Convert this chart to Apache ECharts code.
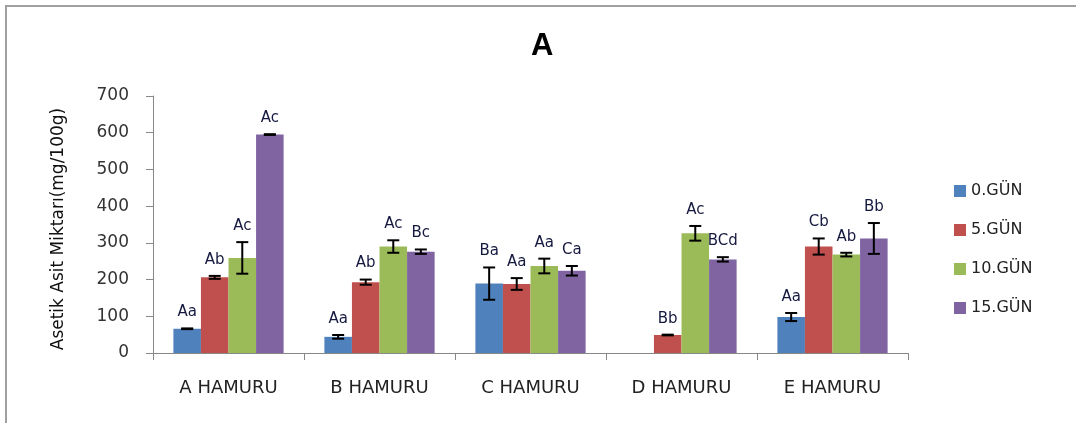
<!DOCTYPE html>
<html>
<head>
<meta charset="utf-8">
<script src="https://cdn.jsdelivr.net/npm/echarts@6/dist/echarts.min.js"></script>
<style>
  html, body { margin: 0; padding: 0; background: #fff; }
  #chart { width: 1076px; height: 423px; }
</style>
</head>
<body>
<div id="chart"></div>
<script>
// Doughs and sampling days
const categories = ['A HAMURU', 'B HAMURU', 'C HAMURU', 'D HAMURU', 'E HAMURU'];
const seriesNames = ['0.GÜN', '5.GÜN', '10.GÜN', '15.GÜN'];
const yTicks = [0, 100, 200, 300, 400, 500, 600, 700];

// Acetic acid means (mg/100g), per day
const day0 = [66, 44, 189, 0, 98];
const day5 = [206, 193, 188, 49, 290];
const day10 = [259, 290, 237, 326, 268];
const day15 = [595, 276, 224, 255, 312];

// Standard deviations
const err0 = [1, 5, 44, 0, 11];
const err5 = [4, 7, 16, 1, 22];
const err10 = [43, 17, 20, 20, 5];
const err15 = [1, 6, 13, 6, 42];

// Significance letters
const sig0 = ['Aa', 'Aa', 'Ba', '', 'Aa'];
const sig5 = ['Ab', 'Ab', 'Aa', 'Bb', 'Cb'];
const sig10 = ['Ac', 'Ac', 'Aa', 'Ac', 'Ab'];
const sig15 = ['Ac', 'Bc', 'Ca', 'BCd', 'Bb'];

const means = [day0, day5, day10, day15];
const errs = [err0, err5, err10, err15];
const sigs = [sig0, sig5, sig10, sig15];
const colors = ['#4F81BD', '#C0504D', '#9BBB59', '#8064A2'];
const CAT_GAP = 0.27;
const FONT = 'DejaVu Sans';

const chart = echarts.init(document.getElementById('chart'), null, { renderer: 'canvas' });

const barSeries = seriesNames.map((name, k) => ({
  name: name,
  type: 'bar',
  data: means[k],
  barGap: '0%',
  barCategoryGap: (CAT_GAP * 100) + '%',
  itemStyle: { color: colors[k] },
  silent: true
}));

// Error bars and significance letters, aligned with each bar of group k
const errorSeries = seriesNames.map((name, k) => ({
  type: 'custom',
  silent: true,
  z: 10,
  data: categories.map((c, i) => [i, means[k][i], errs[k][i]]),
  encode: { x: 0, y: 1 },
  renderItem: function (params, api) {
    const i = params.dataIndex;
    const v = means[k][i];
    const e = errs[k][i];
    const label = sigs[k][i];
    if (!v) return null;
    const band = api.size([1, 0])[0];
    const barW = band * (1 - CAT_GAP) / seriesNames.length;
    const center = api.coord([i, v]);
    const x = center[0] + (k - (seriesNames.length - 1) / 2) * barW;
    const yTop = api.coord([i, v + e])[1];
    const yBot = api.coord([i, v - e])[1];
    const cap = 6;
    const ls = { stroke: '#000', lineWidth: 2 };
    return {
      type: 'group',
      children: [
        { type: 'line', shape: { x1: x, y1: yTop, x2: x, y2: yBot }, style: ls },
        { type: 'line', shape: { x1: x - cap, y1: yTop, x2: x + cap, y2: yTop }, style: ls },
        { type: 'line', shape: { x1: x - cap, y1: yBot, x2: x + cap, y2: yBot }, style: ls },
        {
          type: 'text',
          style: {
            text: label, x: x, y: yTop - 16,
            align: 'center', verticalAlign: 'middle',
            fontFamily: FONT, fontSize: 15, fill: '#15193f'
          }
        }
      ]
    };
  }
}));

chart.setOption({
  animation: false,
  backgroundColor: '#fff',
  title: {
    text: 'A',
    left: 526,
    top: 26,
    textStyle: { fontFamily: 'Liberation Sans', fontSize: 31, fontWeight: 'bold', color: '#000' }
  },
  legend: {
    orient: 'vertical',
    left: 949,
    top: 178,
    itemWidth: 12,
    itemHeight: 12,
    itemGap: 23,
    icon: 'rect',
    data: seriesNames,
    textStyle: { fontFamily: FONT, fontSize: 16, color: '#222' }
  },
  grid: { left: 153, right: 168, top: 96, bottom: 70 },
  xAxis: {
    type: 'category',
    data: categories,
    axisLine: { lineStyle: { color: '#888', width: 1 } },
    axisTick: { show: true, length: 7, lineStyle: { color: '#888' } },
    axisLabel: { fontFamily: FONT, fontSize: 18, color: '#222', margin: 26 }
  },
  yAxis: {
    type: 'value',
    min: yTicks[0],
    max: yTicks[yTicks.length - 1],
    interval: yTicks[1] - yTicks[0],
    splitLine: { show: false },
    axisLine: { show: true, lineStyle: { color: '#888', width: 1 } },
    axisTick: { show: true, length: 7, lineStyle: { color: '#888' } },
    axisLabel: { fontFamily: FONT, fontSize: 17, color: '#333', margin: 24 }
  },
  graphic: [
    {
      type: 'rect',
      shape: { x: 6, y: 6, width: 1200, height: 1000 },
      style: { fill: 'none', stroke: '#a0a0a0', lineWidth: 2 },
      silent: true
    },
    {
      type: 'text',
      x: 59, y: 229,
      rotation: Math.PI / 2,
      style: {
        text: 'Asetik Asit Miktarı(mg/100g)',
        align: 'center', verticalAlign: 'middle',
        fontFamily: FONT, fontSize: 17, fill: '#111'
      },
      silent: true
    }
  ],
  series: barSeries.concat(errorSeries)
});
</script>
</body>
</html>
